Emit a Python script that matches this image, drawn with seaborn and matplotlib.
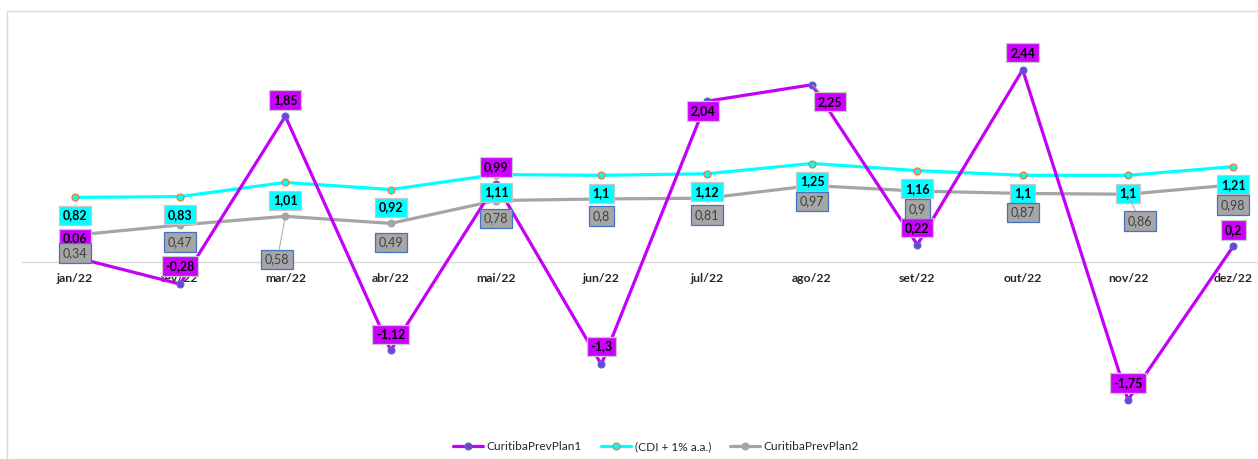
import numpy as np
import pandas as pd
import matplotlib
matplotlib.use('Agg')
import matplotlib.pyplot as plt
import seaborn as sns
from matplotlib.patches import Rectangle

meses = ['jan/22', 'fev/22', 'mar/22', 'abr/22', 'mai/22', 'jun/22',
         'jul/22', 'ago/22', 'set/22', 'out/22', 'nov/22', 'dez/22']
plan1 = [0.06, -0.28, 1.85, -1.12, 0.99, -1.3, 2.04, 2.25, 0.22, 2.44, -1.75, 0.2]
cdi = [0.82, 0.83, 1.01, 0.92, 1.11, 1.1, 1.12, 1.25, 1.16, 1.1, 1.1, 1.21]
plan2 = [0.34, 0.47, 0.58, 0.49, 0.78, 0.8, 0.81, 0.97, 0.9, 0.87, 0.86, 0.98]

## label offsets in pixels (dx, dy)
off1 = [(0, 19), (0, 18), (0, 16), (0, 16), (0, 17), (0, 18),
        (-4, -10), (18, -17), (0, 17), (0, 17), (0, 17), (0, 16)]
off2 = [(0, -18)] * 12
off3 = [(0, -18), (0, -17), (-8, -43), (0, -19), (0, -18), (0, -17),
        (0, -17), (0, -16), (0, -18), (0, -19), (12, -27), (0, -20)]

df = pd.DataFrame({'pos': np.arange(len(meses)), 'mes': meses,
                   'plan1': plan1, 'cdi': cdi, 'plan2': plan2})

sns.set_theme(style='white')
plt.rcParams['font.family'] = ['Lato', 'DejaVu Sans']

W, H = 1258, 459
fig = plt.figure(figsize=(W / 100, H / 100), dpi=100)
ax = fig.add_axes([22 / W, (H - 419.6) / H, 1264 / W, 394 / H])

roxo = '#C400F7'
ciano = '#00FFFF'
cinza = '#A5A5A5'

sns.lineplot(data=df, x='pos', y='plan2', ax=ax, color=cinza, linewidth=2.3,
             marker='o', markersize=5, markerfacecolor=cinza, markeredgecolor=cinza,
             zorder=2, label='CuritibaPrevPlan2')
sns.lineplot(data=df, x='pos', y='cdi', ax=ax, color=ciano, linewidth=2.3,
             marker='o', markersize=5, markerfacecolor=ciano, markeredgecolor='#ED7D31',
             markeredgewidth=0.9, zorder=3, label='(CDI + 1% a.a.)')
sns.lineplot(data=df, x='pos', y='plan1', ax=ax, color=roxo, linewidth=2.3,
             marker='o', markersize=5, markerfacecolor='#7B3FD9', markeredgecolor='#4472C4',
             markeredgewidth=0.8, zorder=4, label='CuritibaPrevPlan1')

def fmt(v):
    return f'{v:g}'.replace('.', ',')

def rotulos(vals, offs, fc, ec, tc, peso, z):
    for i, (v, (dx, dy)) in enumerate(zip(vals, offs)):
        arrow = None
        if abs(dy) > 25 or abs(dx) > 10:
            arrow = dict(arrowstyle='-', color='#A6A6A6', lw=0.7, shrinkA=0, shrinkB=0)
        ax.annotate(fmt(v), xy=(i, v), xytext=(dx, dy), textcoords='offset pixels',
                    ha='center', va='center', fontsize=9, fontweight=peso, color=tc,
                    bbox=dict(boxstyle='square,pad=0.3', fc=fc, ec=ec, lw=0.9),
                    arrowprops=arrow, zorder=z, annotation_clip=False)

rotulos(plan1, off1, '#CC00FF', '#C8C8C8', 'black', 'bold', 5)
rotulos(cdi, off2, ciano, '#C8C8C8', 'black', 'bold', 6)
rotulos(plan2, off3, '#A6A6A6', '#4472C4', '#404040', 'normal', 7)

for s in ['top', 'right', 'left']:
    ax.spines[s].set_visible(False)
ax.spines['bottom'].set_position(('data', 0))
ax.spines['bottom'].set_color('#D9D9D9')
ax.spines['bottom'].set_linewidth(1)

ax.set_xlim(-0.5, 11.5)
ax.set_ylim(-2, 3)
ax.set_xlabel('')
ax.set_ylabel('')
ax.set_yticks([])
ax.set_xticks(df['pos'])
ax.set_xticklabels(meses, fontsize=8.8, fontweight='bold', color='#262626')
ax.set_xticks(np.arange(-0.5, 12, 1), minor=True)
ax.tick_params(axis='x', which='major', length=0, pad=8)
ax.tick_params(axis='x', which='minor', length=4, width=0.8, color='#D9D9D9', direction='out')
ax.patch.set_alpha(0)

ax.get_legend().remove()
h, l = ax.get_legend_handles_labels()
ordem = [2, 1, 0]
fig.legend([h[k] for k in ordem], [l[k] for k in ordem], loc='center',
           bbox_to_anchor=(656 / W, 1 - 447 / H), ncol=3, frameon=False,
           fontsize=8.6, handlelength=2.5, handletextpad=0.3, columnspacing=1.6)

fig.patches.append(Rectangle((7 / W, -0.1), 1.2, (H - 11.5) / H + 0.1,
                             transform=fig.transFigure, fill=False,
                             ec='#D9D9D9', lw=1, zorder=0))

fig.savefig('out.png', dpi=100, facecolor='white')
